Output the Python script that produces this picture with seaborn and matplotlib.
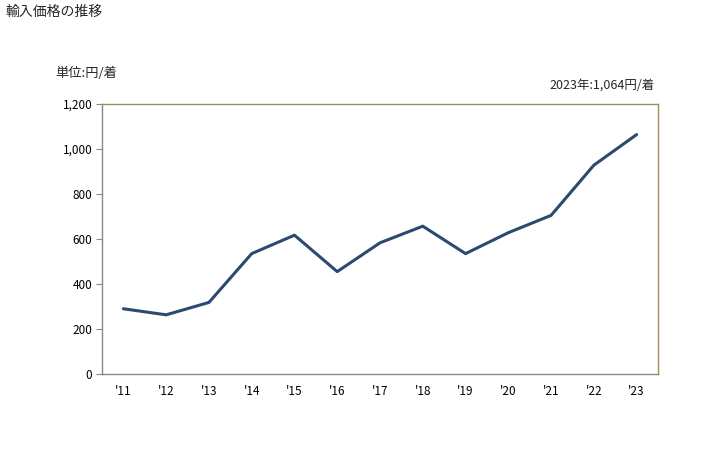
import matplotlib
matplotlib.use("Agg")
import matplotlib.pyplot as plt
import seaborn as sns
import pandas as pd

years = ["'11", "'12", "'13", "'14", "'15", "'16", "'17", "'18", "'19", "'20", "'21", "'22", "'23"]
values = [290, 263, 318, 535, 617, 455, 583, 657, 535, 628, 705, 928, 1064]
yticks = [0, 200, 400, 600, 800, 1000, 1200]

sns.set_style("white")
plt.rcParams['font.family'] = ['Noto Sans CJK JP', 'DejaVu Sans']

df = pd.DataFrame({"x": list(range(len(years))), "v": values})

fig = plt.figure(figsize=(7.28, 4.5), dpi=100)
ax = fig.add_axes([102/728, 1-374/450, 556/728, 270/450])
sns.lineplot(data=df, x="x", y="v", ax=ax, color="#2c4a70", linewidth=2.2)

ax.set_xlim(-0.5, len(years) - 0.5)
ax.set_ylim(0, 1200)
ax.set_xticks(range(len(years)))
ax.set_xticklabels(years, fontsize=8.5, color="black")
ax.set_yticks(yticks)
ax.set_yticklabels([f"{t:,}" for t in yticks], fontsize=8.5, color="black")
ax.set_xlabel("")
ax.set_ylabel("")
ax.tick_params(axis='x', length=0, pad=8)
ax.tick_params(axis='y', length=4, width=0.8, color="#888888", pad=3, left=True)

for s in ["left", "bottom"]:
    ax.spines[s].set_color("#888888")
    ax.spines[s].set_linewidth(1)
for s in ["top", "right"]:
    ax.spines[s].set_color("#9c8f55")
    ax.spines[s].set_linewidth(1)

fig.text(6/728, 1-12/450, "輸入価格の推移", fontsize=10, va="center", ha="left")
fig.text(55/728, 1-73/450, "単位:円/着", fontsize=9.5, va="center", ha="left")
fig.text(655/728, 1-85/450, "2023年:1,064円/着", fontsize=9, va="center", ha="right")

fig.savefig("out.png", dpi=100)
